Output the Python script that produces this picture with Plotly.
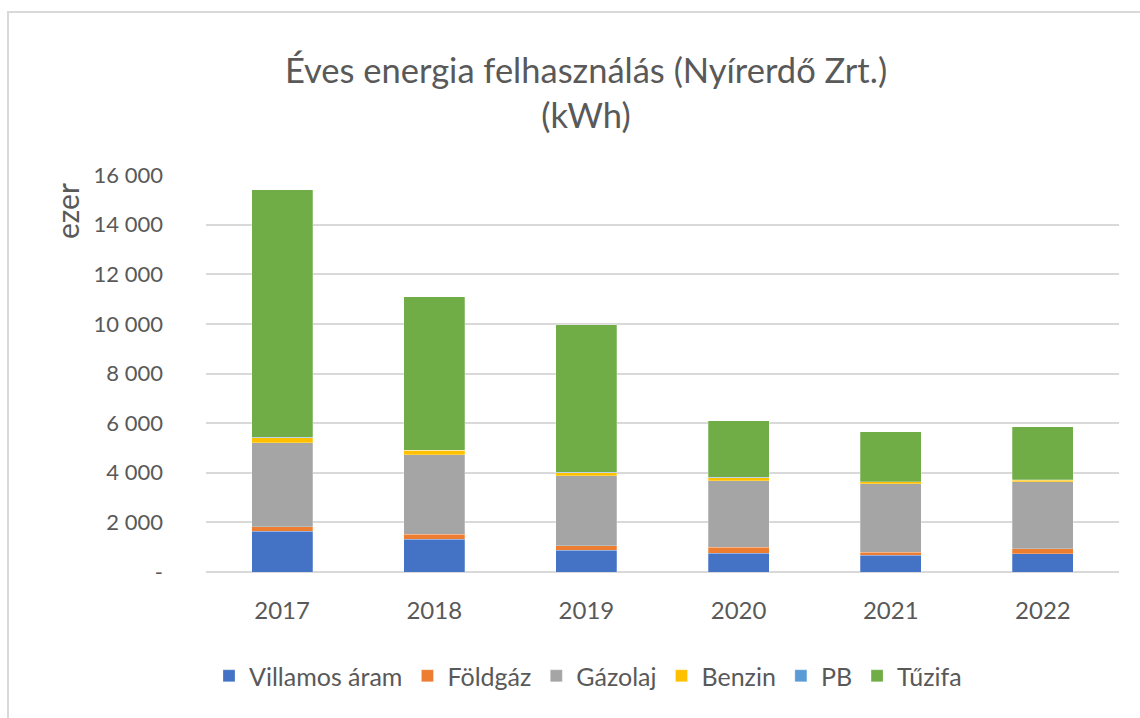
import plotly.graph_objects as go

years = ["2017", "2018", "2019", "2020", "2021", "2022"]
villamos = [1650, 1330, 875, 750, 685, 740]
foldgaz = [180, 190, 185, 245, 120, 190]
gazolaj = [3380, 3200, 2820, 2675, 2755, 2700]
benzin = [200, 180, 120, 130, 70, 70]
pb = [15, 15, 15, 15, 10, 10]
tuzifa = [9975, 6175, 5945, 2285, 2020, 2140]

series = [
    ("Villamos áram", villamos, "#4472C4"),
    ("Földgáz", foldgaz, "#ED7D31"),
    ("Gázolaj", gazolaj, "#A5A5A5"),
    ("Benzin", benzin, "#FFC000"),
    ("PB", pb, "#5B9BD5"),
    ("Tűzifa", tuzifa, "#70AD47"),
]

tick_vals = [0, 2000, 4000, 6000, 8000, 10000, 12000, 14000, 16000]
tick_text = ["-", "2 000", "4 000", "6 000", "8 000", "10 000", "12 000", "14 000", "16 000"]

FONT = "Lato, 'Open Sans', sans-serif"
GREY = "#595959"

fig = go.Figure()
for name, vals, col in series:
    fig.add_trace(go.Bar(
        x=years, y=vals, name=name,
        marker=dict(color=col, line=dict(color="rgba(255,255,255,0.5)", width=0.5)),
    ))

fig.update_layout(
    barmode="stack",
    bargap=0.6,
    width=1140, height=718,
    paper_bgcolor="white", plot_bgcolor="white",
    margin=dict(l=206, r=21, t=175, b=146),
    font=dict(family=FONT, color=GREY, size=22),
    title=dict(
        text="Éves energia felhasználás (Nyírerdő Zrt.)<br>(kWh)",
        x=586 / 1140, xanchor="center", y=1 - 83 / 718, yanchor="top",
        font=dict(size=34.5, color=GREY, family=FONT),
    ),
    xaxis=dict(
        showgrid=False, showline=False, ticks="",
        tickfont=dict(size=24, color=GREY), ticklabelstandoff=22,
    ),
    yaxis=dict(
        range=[0, 16000], tickvals=tick_vals, ticktext=tick_text,
        showgrid=True, gridcolor="#D9D9D9", gridwidth=1.5,
        zeroline=True, zerolinecolor="#D9D9D9", zerolinewidth=1.5,
        showline=False, ticks="", ticklabelstandoff=42,
        tickfont=dict(size=22, color=GREY),
    ),
    legend=dict(
        orientation="h", xref="container", yref="container",
        x=588 / 1140, xanchor="center", y=1 - 676 / 718, yanchor="middle",
        font=dict(size=25, color=GREY), traceorder="normal",
        itemwidth=30, tracegroupgap=0,
    ),
    showlegend=True,
)

fig.add_annotation(
    text="ezer", xref="paper", yref="paper",
    x=(67 - 206) / 913, y=(572 - 211) / 397,
    showarrow=False, textangle=-90,
    font=dict(size=30, color=GREY, family=FONT),
    xanchor="center", yanchor="middle",
)

fig.add_shape(
    type="rect", xref="paper", yref="paper",
    x0=(8 - 206) / 913, x1=1.2, y0=-0.6, y1=(572 - 12) / 397,
    line=dict(color="#D9D9D9", width=2), fillcolor="rgba(0,0,0,0)",
    layer="below",
)

fig.write_html(
    "out.html",
    config={"displayModeBar": False},
    post_script="document.body.style.margin='0';document.body.style.overflow='hidden';",
)
